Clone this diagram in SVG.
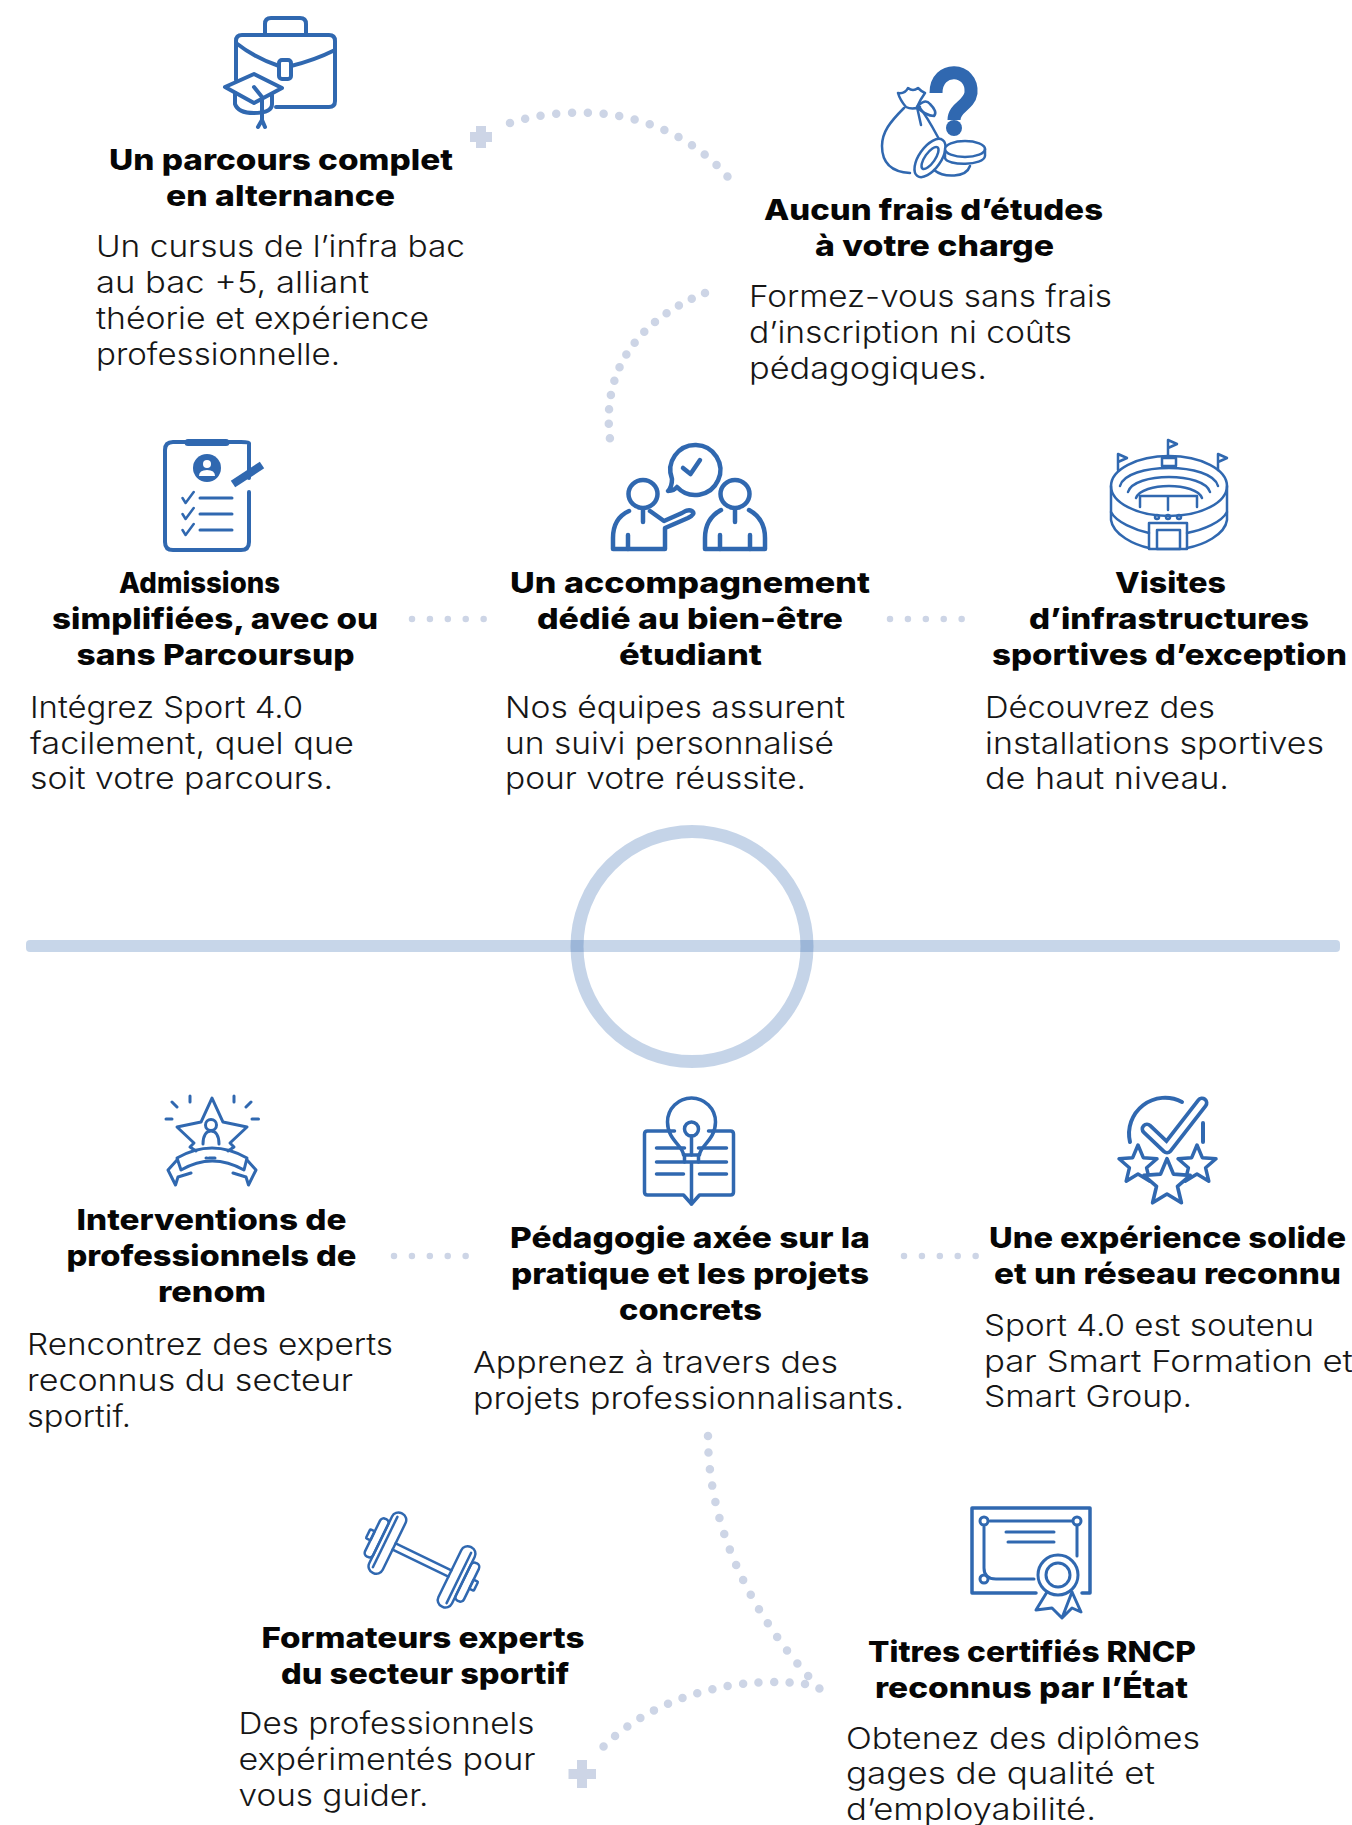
<svg xmlns="http://www.w3.org/2000/svg" xmlns:xlink="http://www.w3.org/1999/xlink" width="1352" height="1825" viewBox="0 0 1352 1825">
<style>
.t{font-family:"Inter","Liberation Sans",sans-serif;font-weight:800;font-size:29px;fill:#060606}
.b{font-family:"Inter","Liberation Sans",sans-serif;font-weight:300;font-size:30px;fill:#161616}
.ic{fill:none;stroke:#3068b0;stroke-width:4;stroke-linecap:round;stroke-linejoin:round}
.th{stroke-width:2.5}
.fb{fill:#3068b0;stroke:none}
.dot{fill:none;stroke:#cdd5e6;stroke-width:8.5;stroke-linecap:round;stroke-dasharray:0 1}
.sm{stroke-width:6.5}
.plus{fill:none;stroke:#cdd5e6;stroke-width:10}
</style>
<defs>
<polygon id="star" points="0,-20 5.3,-7.3 19,-6.2 8.6,2.8 11.8,16.2 0,9 -11.8,16.2 -8.6,2.8 -19,-6.2 -5.3,-7.3"/>
</defs>
<rect width="1352" height="1825" fill="#ffffff"/>
<g id="divider">
<rect x="26" y="940" width="1314" height="12" rx="4" fill="#2f66ad" fill-opacity=".27"/>
<circle cx="692" cy="946.5" r="115" fill="none" stroke="#2f66ad" stroke-opacity=".28" stroke-width="13"/>
</g>
<g id="connectors">
<path class="dot" pathLength="15.050" d="M510 123C570 104 665 105 728 177"/>
<path class="plus" d="M481 126V148M470 137H492"/>
<path class="dot" pathLength="13.050" d="M705 293C650 315 600 360 610 439"/>
<path class="dot sm" pathLength="4.020" d="M412 619H484"/>
<path class="dot sm" pathLength="4.020" d="M890 619H962"/>
<path class="dot sm" pathLength="4.020" d="M394 1256H466"/>
<path class="dot sm" pathLength="4.020" d="M904 1256H976"/>
<path class="dot" pathLength="17.050" d="M708 1436C708 1520 745 1610 820 1689"/>
<path class="dot" pathLength="14.050" d="M805 1684C750 1676 660 1690 603 1747"/>
<path class="plus" d="M582 1760V1788M568.500 1774H596"/>
</g>
<g id="node-parcours">
<g class="ic">
<path d="M265 35V24Q265 18 271 18H300Q306 18 306 24V35"/>
<path d="M236 80V41Q236 35 242 35H329Q335 35 335 41V101Q335 107 329 107H276"/>
<path d="M236 43Q255 58 279 66M291 66Q315 60 335 50"/>
<rect x="279" y="60" width="12" height="19" rx="3"/>
<path d="M254 74L282 88L254 103L225 87Z"/>
<path d="M235 93V104Q238 113 254 113Q272 113 272 104V95"/>
<path d="M254 87L262 97V120M262 120L258 127M262 120L265 127"/>
</g>
<text class="t" x="109" y="170" textLength="344" lengthAdjust="spacingAndGlyphs">Un parcours complet</text>
<text class="t" x="166" y="206" textLength="229" lengthAdjust="spacingAndGlyphs">en alternance</text>
<text class="b" x="96" y="257" textLength="369" lengthAdjust="spacingAndGlyphs">Un cursus de l’infra bac</text>
<text class="b" x="96" y="293" textLength="273" lengthAdjust="spacingAndGlyphs">au bac +5, alliant</text>
<text class="b" x="96" y="329" textLength="333" lengthAdjust="spacingAndGlyphs">théorie et expérience</text>
<text class="b" x="96" y="365" textLength="244" lengthAdjust="spacingAndGlyphs">professionnelle.</text>
</g>
<g id="node-frais">
<path class="ic" style="stroke-width:13;stroke-linecap:butt" d="M936 93C936 65 973 67 971 93C969 106 954 107 954 120"/>
<circle class="fb" cx="954" cy="128" r="8"/>
<g class="ic th">
<path d="M904 108C890 122 882 132 882 146C882 164 892 172 910 173M920 108C928 118 934 130 940 141"/>
<path d="M906 107Q912 110 920 107M906 107Q900 100 898 93Q905 94 908 88Q913 92 918 88Q922 92 925 93Q920 100 917 107"/>
<path d="M917 107Q925 98 930 104Q938 112 934 116Q926 116 917 107ZM917 107L921 125"/>
<ellipse cx="930" cy="158" rx="22" ry="11" transform="rotate(-55 930 158)" fill="#fff"/>
<ellipse cx="930" cy="158" rx="13" ry="5" transform="rotate(-55 930 158)"/>
<ellipse cx="965" cy="149" rx="20" ry="8" fill="#fff"/>
<path d="M945 150V158C947 166 984 166 985 156V149"/>
<path d="M934 170C944 178 966 178 970 166"/>
</g>
<text class="t" x="764" y="220" textLength="339" lengthAdjust="spacingAndGlyphs">Aucun frais d’études</text>
<text class="t" x="815" y="256" textLength="239" lengthAdjust="spacingAndGlyphs">à votre charge</text>
<text class="b" x="749" y="307" textLength="363" lengthAdjust="spacingAndGlyphs">Formez-vous sans frais</text>
<text class="b" x="749" y="343" textLength="323" lengthAdjust="spacingAndGlyphs">d’inscription ni coûts</text>
<text class="b" x="749" y="379" textLength="238" lengthAdjust="spacingAndGlyphs">pédagogiques.</text>
</g>
<g id="node-admissions">
<g class="ic">
<path d="M249 478V443Q249 442 241 442H173Q165 442 165 450V542Q165 550 173 550H241Q249 550 249 542V492"/>
<path style="stroke-width:7" d="M188 442.500H226"/>
<path style="stroke-width:3" d="M200 498H232M200 514H232M200 530H232"/>
<path style="stroke-width:2.500" d="M182.500 498L185.600 503L193.700 492M182.500 514L185.600 519L193.700 508M182.500 530L185.600 535L193.700 524"/>
<path style="stroke-width:8;stroke-linecap:butt" d="M233 484L262 465"/>
</g>
<circle class="fb" cx="207" cy="468" r="14"/>
<circle cx="207" cy="464" r="4" fill="#fff"/>
<path d="M199 476Q199 470 207 470Q215 470 215 476Z" fill="#fff"/>
<text class="t" x="119" y="593" textLength="161" lengthAdjust="spacingAndGlyphs">Admissions</text>
<text class="t" x="52" y="629" textLength="326" lengthAdjust="spacingAndGlyphs">simplifiées, avec ou</text>
<text class="t" x="76.500" y="665" textLength="278" lengthAdjust="spacingAndGlyphs">sans Parcoursup</text>
<text class="b" x="30" y="718" textLength="273" lengthAdjust="spacingAndGlyphs">Intégrez Sport 4.0</text>
<text class="b" x="30" y="754" textLength="324" lengthAdjust="spacingAndGlyphs">facilement, quel que</text>
<text class="b" x="30" y="789" textLength="303" lengthAdjust="spacingAndGlyphs">soit votre parcours.</text>
</g>
<g id="node-accompagnement">
<g class="ic" style="stroke-width:4.500">
<path d="M677 487A25 25 0 1 0 672 479Q672 487 668 491Q674 491 677 487Z"/>
<path d="M683 468L690.500 474L700 460"/>
<ellipse cx="643" cy="494" rx="14.500" ry="14"/>
<ellipse cx="735" cy="494" rx="14.500" ry="14"/>
<path d="M629 511C618 516 613 526 613 538V549H665V528L688 518Q696 514 692 511Q688 509 682 513L664 521L650 511"/>
<path d="M643 509V522M628 535V549"/>
<path d="M721 510C710 516 705 526 705 538V549H765V538C765 526 760 516 749 510"/>
<path d="M735 509V522M720 535V549M750 535V549"/>
</g>
<text class="t" x="510" y="593" textLength="360" lengthAdjust="spacingAndGlyphs">Un accompagnement</text>
<text class="t" x="537" y="629" textLength="306" lengthAdjust="spacingAndGlyphs">dédié au bien-être</text>
<text class="t" x="619" y="665" textLength="143" lengthAdjust="spacingAndGlyphs">étudiant</text>
<text class="b" x="505" y="718" textLength="340" lengthAdjust="spacingAndGlyphs">Nos équipes assurent</text>
<text class="b" x="505" y="754" textLength="329" lengthAdjust="spacingAndGlyphs">un suivi personnalisé</text>
<text class="b" x="505" y="789" textLength="301" lengthAdjust="spacingAndGlyphs">pour votre réussite.</text>
</g>
<g id="node-visites">
<g class="ic th">
<ellipse cx="1169" cy="486" rx="58" ry="30"/>
<path d="M1120 486C1126 462 1212 462 1218 486"/>
<path d="M1128 492C1134 472 1204 472 1210 492"/>
<path d="M1136 498C1142 482 1196 482 1202 498"/>
<path d="M1111 486V520C1113 535 1135 545 1149 548M1227 486V520C1225 535 1203 545 1187 548"/>
<path d="M1111 512C1116 522 1135 530 1149 533M1227 512C1222 522 1203 530 1187 533"/>
<path d="M1140 507V496H1197V507M1168 496V510"/>
<rect x="1162" y="458" width="14" height="8"/>
<rect x="1149" y="523" width="38" height="26"/>
<rect x="1157" y="530" width="23" height="19"/>
<circle cx="1157" cy="517" r="2"/><circle cx="1168" cy="517" r="2"/><circle cx="1179" cy="517" r="2"/>
<path d="M1118 470V454L1127 458L1118 462"/>
<path d="M1168 455V440L1177 444L1168 448"/>
<path d="M1218 470V454L1227 458L1218 462"/>
</g>
<text class="t" x="1115" y="593" textLength="111" lengthAdjust="spacingAndGlyphs">Visites</text>
<text class="t" x="1029" y="629" textLength="280" lengthAdjust="spacingAndGlyphs">d’infrastructures</text>
<text class="t" x="992" y="665" textLength="355" lengthAdjust="spacingAndGlyphs">sportives d’exception</text>
<text class="b" x="985" y="718" textLength="230" lengthAdjust="spacingAndGlyphs">Découvrez des</text>
<text class="b" x="985" y="754" textLength="339" lengthAdjust="spacingAndGlyphs">installations sportives</text>
<text class="b" x="985" y="789" textLength="244" lengthAdjust="spacingAndGlyphs">de haut niveau.</text>
</g>
<g id="node-interventions">
<g class="ic" style="stroke-width:3">
<path d="M196 1151L190 1147L194 1143L177 1127L201 1122L212 1098L223 1122L247 1127L230 1143L234 1147L228 1151"/>
<circle cx="211" cy="1125" r="5.500"/>
<path d="M203 1144C203 1136 206 1131 211 1131C216 1131 219 1136 219 1144"/>
<path d="M177 1158Q212 1138 247 1158L244 1170Q212 1152 181 1170Z"/>
<path d="M177 1160L168 1170L175.500 1185L178 1177L191 1173M247 1160L256 1170L248.500 1185L246 1177L233 1173"/>
<path d="M206 1158H207M209 1158H215"/>
<path d="M172 1102L177 1107M190 1096V1102M234 1096V1102M251 1102L246 1107M166 1119H172M252 1119H258.500"/>
</g>
<text class="t" x="76.500" y="1230" textLength="270" lengthAdjust="spacingAndGlyphs">Interventions de</text>
<text class="t" x="66.500" y="1266" textLength="290" lengthAdjust="spacingAndGlyphs">professionnels de</text>
<text class="t" x="158" y="1302" textLength="108" lengthAdjust="spacingAndGlyphs">renom</text>
<text class="b" x="27" y="1355" textLength="366" lengthAdjust="spacingAndGlyphs">Rencontrez des experts</text>
<text class="b" x="27" y="1391" textLength="326" lengthAdjust="spacingAndGlyphs">reconnus du secteur</text>
<text class="b" x="27" y="1427" textLength="104" lengthAdjust="spacingAndGlyphs">sportif.</text>
</g>
<g id="node-pedagogie">
<g class="ic" style="stroke-width:3.500" transform="translate(2.500 0)">
<path d="M672 1131H645Q642 1131 642 1134V1192Q642 1195 645 1195H681L689 1204L697 1195H728Q731 1195 731 1192V1134Q731 1131 728 1131H706"/>
<path d="M681 1155C681 1146 665 1140 665 1122A24 24 0 0 1 713 1122C713 1140 697 1146 697 1155Z"/>
<circle cx="689" cy="1129" r="7"/>
<path d="M689 1136V1155M682 1155V1162H696V1155M689 1162V1204"/>
<path d="M654 1148H682M696 1148H724M654 1162H682M696 1162H724M654 1174H681M697 1174H724"/>
</g>
<text class="t" x="510" y="1248" textLength="360" lengthAdjust="spacingAndGlyphs">Pédagogie axée sur la</text>
<text class="t" x="511" y="1284" textLength="358" lengthAdjust="spacingAndGlyphs">pratique et les projets</text>
<text class="t" x="619" y="1320" textLength="143" lengthAdjust="spacingAndGlyphs">concrets</text>
<text class="b" x="473" y="1373" textLength="365" lengthAdjust="spacingAndGlyphs">Apprenez à travers des</text>
<text class="b" x="473" y="1409" textLength="431" lengthAdjust="spacingAndGlyphs">projets professionnalisants.</text>
</g>
<g id="node-experience">
<path class="ic" d="M1130 1142A36 36 0 0 1 1182 1102M1203 1123V1142"/>
<path class="ic" style="stroke-width:13" d="M1147 1129L1167 1148L1202 1103"/>
<path class="ic" style="stroke:#fff;stroke-width:5.500" d="M1147 1129L1167 1148L1202 1103"/>
<g class="ic" style="fill:#fff;stroke-width:3.500">
<use xlink:href="#star" href="#star" x="1138" y="1165"/>
<use xlink:href="#star" href="#star" x="1197" y="1165"/>
<g transform="translate(1167 1183) scale(1.22)"><use xlink:href="#star" href="#star" style="stroke-width:3"/></g>
</g>
<text class="t" x="989" y="1248" textLength="357" lengthAdjust="spacingAndGlyphs">Une expérience solide</text>
<text class="t" x="994" y="1284" textLength="347" lengthAdjust="spacingAndGlyphs">et un réseau reconnu</text>
<text class="b" x="984" y="1336" textLength="330" lengthAdjust="spacingAndGlyphs">Sport 4.0 est soutenu</text>
<text class="b" x="984" y="1372" textLength="369" lengthAdjust="spacingAndGlyphs">par Smart Formation et</text>
<text class="b" x="984" y="1407" textLength="208" lengthAdjust="spacingAndGlyphs">Smart Group.</text>
</g>
<g id="node-formateurs">
<g class="ic th" transform="translate(422 1560) rotate(26)">
<path d="M-31 -3.500H31M-31 3.500H31"/>
<rect x="-46" y="-33" width="15" height="66" rx="7"/>
<rect x="-55" y="-21" width="9" height="42" rx="4"/>
<rect x="-60" y="-5" width="5" height="10" rx="1"/>
<path d="M-41 -28V28"/>
<rect x="31" y="-33" width="15" height="66" rx="7"/>
<rect x="46" y="-21" width="9" height="42" rx="4"/>
<rect x="55" y="-5" width="5" height="10" rx="1"/>
<path d="M41 -28V28"/>
</g>
<text class="t" x="261.500" y="1648" textLength="323" lengthAdjust="spacingAndGlyphs">Formateurs experts</text>
<text class="t" x="281" y="1684" textLength="288" lengthAdjust="spacingAndGlyphs">du secteur sportif</text>
<text class="b" x="238.500" y="1734" textLength="296" lengthAdjust="spacingAndGlyphs">Des professionnels</text>
<text class="b" x="238.500" y="1770" textLength="297" lengthAdjust="spacingAndGlyphs">expérimentés pour</text>
<text class="b" x="238.500" y="1806" textLength="190" lengthAdjust="spacingAndGlyphs">vous guider.</text>
</g>
<g id="node-titres">
<g class="ic">
<path style="stroke-width:3.500" d="M1036 1593H972V1508H1090V1593H1082"/>
<path style="stroke-width:3" d="M990 1521H1072M1077 1526V1556M984 1527V1568Q984 1579 996 1579H1034"/>
<circle style="stroke-width:3" cx="984" cy="1521" r="4"/>
<circle style="stroke-width:3" cx="1077" cy="1521" r="4"/>
<circle style="stroke-width:3" cx="984" cy="1579" r="4"/>
<path style="stroke-width:3" d="M1006 1532H1054M1008 1542H1054"/>
<circle style="stroke-width:3;fill:#fff" cx="1058" cy="1575" r="20"/>
<circle style="stroke-width:3" cx="1058" cy="1575" r="12"/>
<path style="stroke-width:3" d="M1047 1592L1036 1610L1052 1608L1062 1618L1072 1592M1072 1592L1081 1612L1072 1608L1062 1618"/>
</g>
<text class="t" x="868" y="1662" textLength="328" lengthAdjust="spacingAndGlyphs">Titres certifiés RNCP</text>
<text class="t" x="875" y="1698" textLength="313" lengthAdjust="spacingAndGlyphs">reconnus par l’État</text>
<text class="b" x="846" y="1749" textLength="354" lengthAdjust="spacingAndGlyphs">Obtenez des diplômes</text>
<text class="b" x="846" y="1784" textLength="309" lengthAdjust="spacingAndGlyphs">gages de qualité et</text>
<text class="b" x="846" y="1820" textLength="250" lengthAdjust="spacingAndGlyphs">d’employabilité.</text>
</g>
</svg>
